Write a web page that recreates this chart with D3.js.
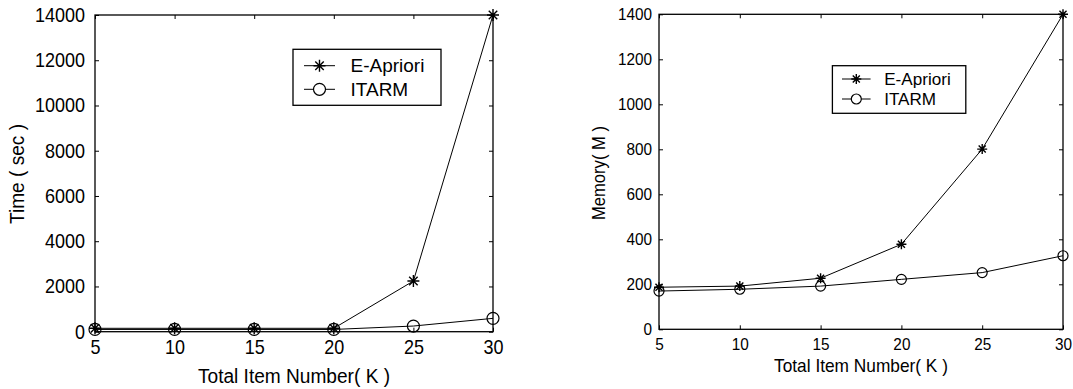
<!DOCTYPE html>
<html><head><meta charset="utf-8">
<script src="https://cdn.jsdelivr.net/npm/d3@7/dist/d3.min.js"></script>
<style>
html,body{margin:0;padding:0;background:#fff;}
svg{display:block;font-family:"Liberation Sans",Arial,sans-serif;}
</style></head>
<body>
<svg id="c" width="1073" height="389"></svg>
<script>
// ---- data ----
const itemNumbers = [5, 10, 15, 20, 25, 30];
const seriesNames = ["E-Apriori", "ITARM"];
const timeEApriori = [150, 150, 150, 150, 2240, 14000];
const timeITARM = [100, 100, 100, 100, 250, 590];
const memEApriori = [187, 192, 227, 378, 801, 1400];
const memITARM = [170, 178, 192, 222, 252, 327];
const timeTicks = [0, 2000, 4000, 6000, 8000, 10000, 12000, 14000];
const memTicks = [0, 200, 400, 600, 800, 1000, 1200, 1400];
const xTicks = [5, 10, 15, 20, 25, 30];

const svg = d3.select("#c");

function asteriskPath(r) {
  const d = r * Math.SQRT1_2;
  return `M${-r},0L${r},0M0,${-r}L0,${r}M${-d},${-d}L${d},${d}M${-d},${d}L${d},${-d}`;
}

function drawChart(o) {
  const g = svg.append("g");
  const x = d3.scaleLinear().domain([5, 30]).range([o.left, o.right]);
  const y = d3.scaleLinear().domain([0, o.yTicks[o.yTicks.length - 1]]).range([o.bottom, o.top]);
  const sx = o.sx;

  g.append("rect").attr("x", o.left).attr("y", o.top)
    .attr("width", o.right - o.left).attr("height", o.bottom - o.top)
    .attr("fill", "none").attr("stroke", "#000").attr("stroke-width", 1.3);

  const tk = 4;
  const fmt = d3.format("d");
  const ax = g.append("g").attr("transform", `translate(0,${o.bottom})`)
    .call(d3.axisBottom(x).tickValues(o.xTicks).tickSizeInner(-tk).tickSizeOuter(0).tickPadding(o.xPad).tickFormat(fmt));
  const axT = g.append("g").attr("transform", `translate(0,${o.top})`)
    .call(d3.axisTop(x).tickValues(o.xTicks).tickSizeInner(-tk).tickSizeOuter(0).tickFormat(""));
  const ay = g.append("g").attr("transform", `translate(${o.left},0)`)
    .call(d3.axisLeft(y).tickValues(o.yTicks).tickSizeInner(-tk).tickSizeOuter(0).tickPadding(o.yPad / sx).tickFormat(fmt));
  const ayR = g.append("g").attr("transform", `translate(${o.right},0)`)
    .call(d3.axisRight(y).tickValues(o.yTicks).tickSizeInner(-tk).tickSizeOuter(0).tickFormat(""));
  [ax, axT, ay, ayR].forEach(a => {
    a.select(".domain").remove();
    a.selectAll("line").attr("stroke", "#000").attr("stroke-width", 1);
    a.selectAll("text").attr("fill", "#000").style("font-size", o.fs + "px")
      .style("font-family", '"Liberation Sans",Arial,sans-serif')
      .attr("transform", `scale(${sx},1)`);
  });

  // axis titles
  g.append("text").attr("transform", `translate(${(o.left + o.right) / 2},${o.xTitleY}) scale(${o.tsx},1)`)
    .attr("text-anchor", "middle").style("font-size", o.titleFs + "px").text("Total Item Number( K )");
  g.append("text").attr("transform", `translate(${o.yTitleX},${o.yTitleCY}) rotate(-90) scale(${o.tsx},1)`)
    .attr("text-anchor", "middle").style("font-size", o.yTitleFs + "px").text(o.yTitle);

  const line = d3.line().x((d, i) => x(o.xs[i])).y(d => y(d));
  [o.s1, o.s2].forEach((s, si) => {
    g.append("path").attr("d", line(s)).attr("fill", "none").attr("stroke", "#000").attr("stroke-width", 1);
    s.forEach((v, i) => {
      if (si === 0) {
        g.append("path").attr("transform", `translate(${x(o.xs[i])},${y(v)})`)
          .attr("d", asteriskPath(o.mr)).attr("stroke", "#000").attr("stroke-width", 1.4).attr("fill", "none");
      } else {
        g.append("circle").attr("cx", x(o.xs[i])).attr("cy", y(v)).attr("r", o.cr)
          .attr("fill", "none").attr("stroke", "#000").attr("stroke-width", 1.2);
      }
    });
  });

  // legend
  const L = o.legend;
  g.append("rect").attr("x", L.x0).attr("y", L.y0).attr("width", L.x1 - L.x0).attr("height", L.y1 - L.y0)
    .attr("fill", "#fff").attr("stroke", "#000").attr("stroke-width", 1.3);
  seriesNames.forEach((name, i) => {
    const ry = L.rows[i];
    g.append("line").attr("x1", L.lx0).attr("x2", L.lx1).attr("y1", ry).attr("y2", ry)
      .attr("stroke", "#000").attr("stroke-width", 1);
    const mx = (L.lx0 + L.lx1) / 2;
    if (i === 0) {
      g.append("path").attr("transform", `translate(${mx},${ry})`).attr("d", asteriskPath(o.mr))
        .attr("stroke", "#000").attr("stroke-width", 1.4).attr("fill", "none");
    } else {
      g.append("circle").attr("cx", mx).attr("cy", ry).attr("r", o.cr)
        .attr("fill", "#fff").attr("stroke", "#000").attr("stroke-width", 1.2);
    }
    g.append("text").attr("x", L.tx).attr("y", ry).attr("dy", "0.35em")
      .style("font-size", L.fs + "px").text(name);
  });
}

drawChart({
  left: 95, right: 493, top: 15, bottom: 331.7,
  xs: itemNumbers, s1: timeEApriori, s2: timeITARM,
  yTicks: timeTicks, xTicks: xTicks, sx: 0.9, tsx: 0.91,
  fs: 20, titleFs: 21, yTitleFs: 21, xPad: 8.5, yPad: 10,
  xTitleY: 383, yTitle: "Time ( sec )", yTitleX: 24, yTitleCY: 174,
  mr: 6, cr: 6,
  legend: {x0: 293, x1: 441, y0: 49.3, y1: 105.3, lx0: 304, lx1: 335, tx: 350.5, rows: [65.7, 89.3], fs: 19}
});

drawChart({
  left: 659, right: 1063, top: 14.3, bottom: 329.3,
  xs: itemNumbers, s1: memEApriori, s2: memITARM,
  yTicks: memTicks, xTicks: xTicks, sx: 0.93, tsx: 0.95,
  fs: 16.5, titleFs: 18.2, yTitleFs: 17.5, xPad: 9, yPad: 7,
  xTitleY: 372, yTitle: "Memory( M )", yTitleX: 605, yTitleCY: 173,
  mr: 5, cr: 5,
  legend: {x0: 832.4, x1: 965.8, y0: 65.7, y1: 113.3, lx0: 842, lx1: 870.6, tx: 884.2, rows: [79, 99], fs: 17.1}
});
</script>
</body></html>
